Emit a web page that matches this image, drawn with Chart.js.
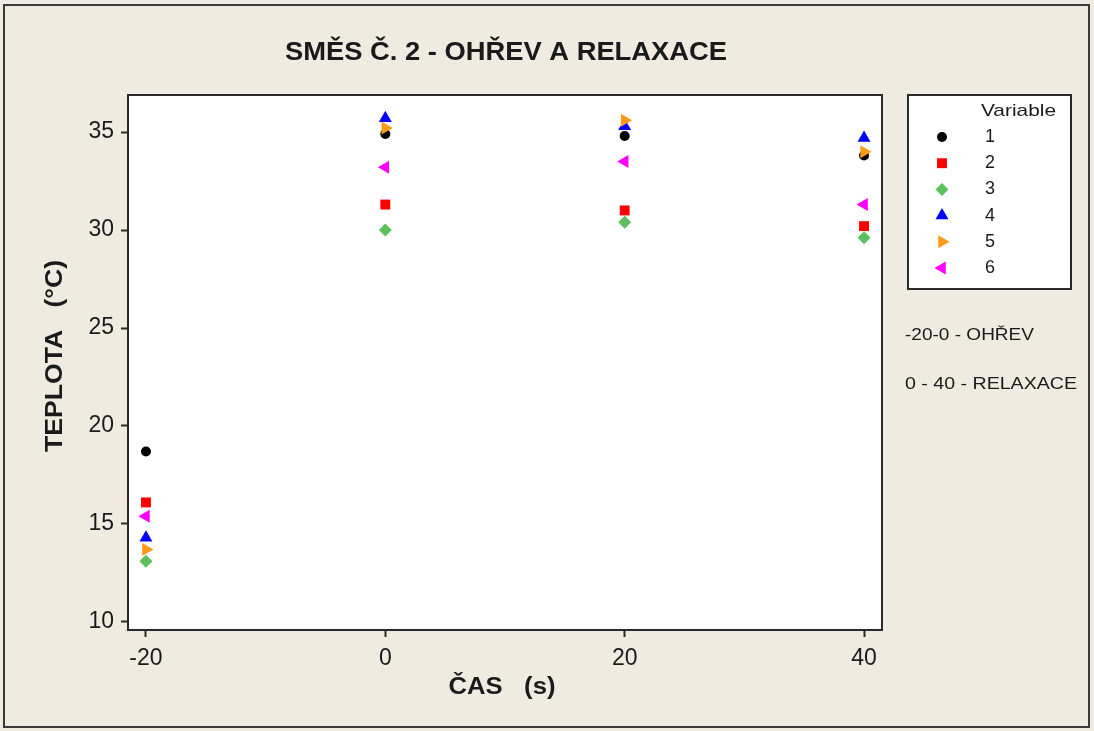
<!DOCTYPE html>
<html>
<head>
<meta charset="utf-8">
<script src="https://cdn.jsdelivr.net/npm/chart.js@4/dist/chart.umd.min.js"></script>
<style>
  html, body { margin: 0; padding: 0; background: #efebe1; }
  canvas { display: block; }
</style>
</head>
<body>
<canvas id="chart" width="1094" height="731"></canvas>
<script>
// Data
const times = [-20, 0, 20, 40];
const xTicks = [-20, 0, 20, 40];
const yTicks = [10, 15, 20, 25, 30, 35];
const variables = ["1", "2", "3", "4", "5", "6"];

const temp1 = [18.7, 34.9, 34.8, 33.8];
const temp2 = [16.1, 31.3, 31.0, 30.2];
const temp3 = [13.1, 30.0, 30.4, 29.6];
const temp4 = [14.3, 35.7, 35.3, 34.7];
const temp5 = [13.7, 35.2, 35.6, 34.0];
const temp6 = [15.4, 33.2, 33.5, 31.3];
const series = [temp1, temp2, temp3, temp4, temp5, temp6];

const titleText = "SMĚS Č. 2 - OHŘEV A RELAXACE";
const xTitle = "ČAS   (s)";
const yTitle = "TEPLOTA   (°C)";
const legendTitle = "Variable";
const notes = ["-20-0 - OHŘEV", "0 - 40 - RELAXACE"];

// marker look per variable
const markers = [
  { style: "circle", color: "#000000", radius: 5, rotation: 0 },
  { style: "rect", color: "#ff0000", radius: 7, rotation: 0 },
  { style: "rectRot", color: "#5cc05c", radius: 6.5, rotation: 0 },
  { style: "triangle", color: "#0000ff", radius: 7.5, rotation: 0 },
  { style: "triangle", color: "#ff9a1a", radius: 7.5, rotation: 90 },
  { style: "triangle", color: "#ff00ff", radius: 7.5, rotation: -90 },
];

const BG = "#efebe1";
const INK = "#1a1a1a";
const FONT = "'Liberation Sans', Arial, sans-serif";

// draws text squeezed or stretched to a given width
function textAt(ctx, text, x, y, width) {
  const w = ctx.measureText(text).width;
  ctx.save();
  ctx.translate(x, y);
  ctx.scale(width / w, 1);
  ctx.fillText(text, 0, 0);
  ctx.restore();
}

const frame = {
  id: "frame",
  beforeDraw(chart) {
    const { ctx, chartArea: a } = chart;
    ctx.save();
    ctx.fillStyle = BG;
    ctx.fillRect(0, 0, chart.width, chart.height);
    ctx.fillStyle = "#ffffff";
    ctx.fillRect(a.left, a.top, a.right - a.left, a.bottom - a.top);
    ctx.restore();
  },
  afterDraw(chart) {
    const { ctx, chartArea: a } = chart;
    ctx.save();
    // outer border
    ctx.strokeStyle = "#3a3a3a";
    ctx.lineWidth = 2;
    ctx.strokeRect(4, 5, chart.width - 9, chart.height - 9);
    // plot border
    ctx.strokeStyle = "#2a2a2a";
    ctx.lineWidth = 2;
    ctx.strokeRect(a.left, a.top, a.right - a.left, a.bottom - a.top);

    // title
    ctx.fillStyle = INK;
    ctx.textAlign = "center";
    ctx.textBaseline = "middle";
    ctx.font = "bold 26px " + FONT;
    textAt(ctx, titleText, 506, 53, 442);

    // axis titles
    ctx.font = "bold 23px " + FONT;
    textAt(ctx, xTitle, 502, 688, 107);
    ctx.save();
    ctx.translate(56, 356);
    ctx.rotate(-Math.PI / 2);
    textAt(ctx, yTitle, 0, 0, 192);
    ctx.restore();

    // legend box
    const lx = 908, ly = 95, lw = 163, lh = 194;
    ctx.fillStyle = "#ffffff";
    ctx.fillRect(lx, ly, lw, lh);
    ctx.strokeStyle = "#2a2a2a";
    ctx.lineWidth = 2;
    ctx.strokeRect(lx, ly, lw, lh);

    ctx.fillStyle = INK;
    ctx.textAlign = "left";
    ctx.font = "17px " + FONT;
    textAt(ctx, legendTitle, 981, 111, 75);
    ctx.font = "18px " + FONT;
    chart.data.datasets.forEach((ds, i) => {
      const y = 137 + i * 26.2;
      const m = markers[i];
      ctx.fillStyle = m.color;
      Chart.helpers.drawPoint(ctx, {
        pointStyle: m.style,
        rotation: m.rotation,
        radius: m.radius,
        borderWidth: 0,
      }, 942, y);
      ctx.fillStyle = INK;
      ctx.fillText(ds.label, 985, y);
    });

    // notes beside the plot
    ctx.font = "17px " + FONT;
    textAt(ctx, notes[0], 905, 335, 129);
    textAt(ctx, notes[1], 905, 384, 172);
    ctx.restore();
  },
};

const datasets = series.map((values, i) => ({
  label: variables[i],
  data: values.map((v, j) => ({ x: times[j], y: v })),
  order: series.length - i, // later variables sit on top
  pointStyle: markers[i].style,
  rotation: markers[i].rotation,
  pointRadius: markers[i].radius,
  pointHoverRadius: markers[i].radius,
  pointBackgroundColor: markers[i].color,
  pointBorderWidth: 0,
  showLine: false,
}));

new Chart(document.getElementById("chart"), {
  type: "scatter",
  data: { datasets },
  options: {
    responsive: false,
    devicePixelRatio: 1,
    animation: false,
    layout: { padding: { top: 95, right: 212, bottom: 0, left: 0 } },
    plugins: {
      legend: { display: false },
      tooltip: { enabled: false },
    },
    scales: {
      x: {
        type: "linear",
        min: -21.5,
        max: 41.5,
        afterBuildTicks: (scale) => {
          scale.ticks = xTicks.map((v) => ({ value: v }));
        },
        afterFit: (scale) => { scale.height = 101; },
        grid: {
          drawOnChartArea: false,
          drawTicks: true,
          tickLength: 7,
          tickColor: "#2a2a2a",
          tickWidth: 2,
        },
        border: { display: false },
        ticks: {
          color: INK,
          padding: 8,
          font: { family: FONT, size: 23 },
        },
      },
      y: {
        type: "linear",
        min: 9.59,
        max: 36.89,
        afterBuildTicks: (scale) => {
          scale.ticks = yTicks.map((v) => ({ value: v }));
        },
        afterFit: (scale) => { scale.width = 128; },
        grid: {
          drawOnChartArea: false,
          drawTicks: true,
          tickLength: 7,
          tickColor: "#2a2a2a",
          tickWidth: 2,
        },
        border: { display: false },
        ticks: {
          color: INK,
          padding: 7,
          font: { family: FONT, size: 23 },
        },
      },
    },
  },
  plugins: [frame],
});
</script>
</body>
</html>
